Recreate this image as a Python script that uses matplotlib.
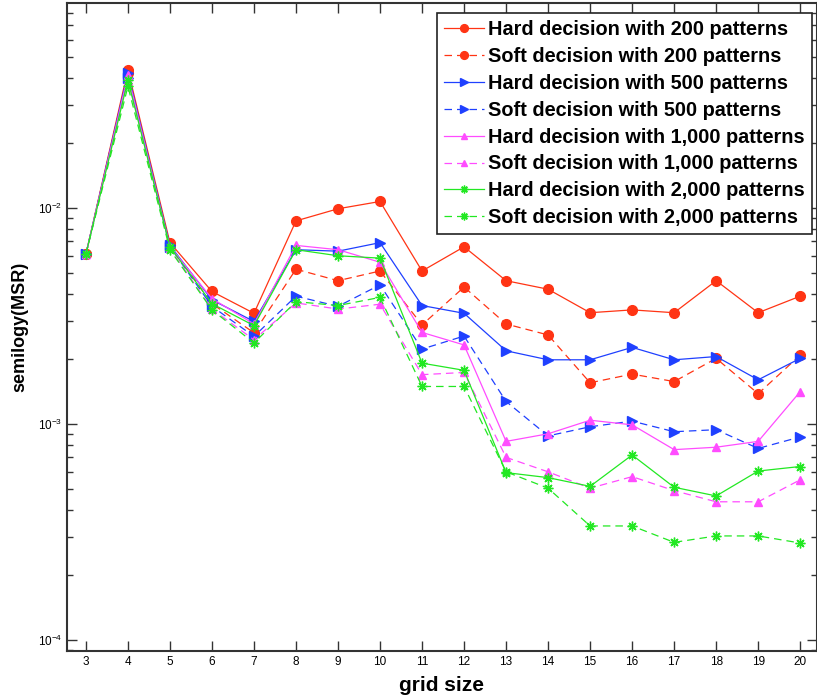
import matplotlib
matplotlib.use("Agg")
import matplotlib.pyplot as plt
from matplotlib.ticker import LogLocator, FixedLocator, NullLocator

grid_size = [3, 4, 5, 6, 7, 8, 9, 10, 11, 12, 13, 14, 15, 16, 17, 18, 19, 20]

hard_200 = [0.0061, 0.0435, 0.0069, 0.0041, 0.00325, 0.0087, 0.0099, 0.0107, 0.0051, 0.0066,
            0.0046, 0.0042, 0.00327, 0.00337, 0.00327, 0.0046, 0.00327, 0.0039]
soft_200 = [0.0061, 0.042, 0.0067, 0.0036, 0.00264, 0.0052, 0.0046, 0.0051, 0.00287, 0.0043,
            0.0029, 0.00258, 0.00155, 0.0017, 0.00157, 0.00201, 0.00138, 0.00208]
hard_500 = [0.0061, 0.042, 0.0067, 0.00375, 0.00298, 0.0064, 0.0063, 0.0069, 0.00353, 0.00325,
            0.00218, 0.00198, 0.00198, 0.00226, 0.00198, 0.00205, 0.0016, 0.00201]
soft_500 = [0.0061, 0.040, 0.0066, 0.0035, 0.00254, 0.0039, 0.0035, 0.0044, 0.00222, 0.00255,
            0.00127, 0.00088, 0.00097, 0.00103, 0.00092, 0.00094, 0.00077, 0.00087]
hard_1000 = [0.0061, 0.041, 0.0066, 0.0038, 0.0029, 0.0067, 0.0064, 0.0056, 0.00265, 0.00232,
             0.00083, 0.0009, 0.00104, 0.00099, 0.00076, 0.00078, 0.00083, 0.00141]
soft_1000 = [0.0061, 0.039, 0.0065, 0.0034, 0.00245, 0.00363, 0.0034, 0.00358, 0.00169, 0.00173,
             0.0007, 0.0006, 0.000504, 0.00057, 0.000491, 0.000436, 0.000436, 0.000551]
hard_2000 = [0.0061, 0.039, 0.0066, 0.0036, 0.00285, 0.0064, 0.0060, 0.00585, 0.00191, 0.00177,
             0.000595, 0.000564, 0.000514, 0.000718, 0.000509, 0.000464, 0.000605, 0.000635]
soft_2000 = [0.0061, 0.0365, 0.0064, 0.00337, 0.00237, 0.00368, 0.00353, 0.00385, 0.00149, 0.00149,
             0.0006, 0.000504, 0.000337, 0.000337, 0.000283, 0.000303, 0.000303, 0.000281]

labels = ["Hard decision with 200 patterns", "Soft decision with 200 patterns",
          "Hard decision with 500 patterns", "Soft decision with 500 patterns",
          "Hard decision with 1,000 patterns", "Soft decision with 1,000 patterns",
          "Hard decision with 2,000 patterns", "Soft decision with 2,000 patterns"]

RED = "#ff3414"
BLUE = "#1f40ff"
MAG = "#ff4cff"
GRN = "#22e822"
ASTER = (8, 2, 0)

series = [
    (hard_200, RED, "-", "o", 7),
    (soft_200, RED, "--", "o", 7),
    (hard_500, BLUE, "-", ">", 6.5),
    (soft_500, BLUE, "--", ">", 6.5),
    (hard_1000, MAG, "-", "^", 6),
    (soft_1000, MAG, "--", "^", 6),
    (hard_2000, GRN, "-", ASTER, 7),
    (soft_2000, GRN, "--", ASTER, 7),
]

plt.rcParams['font.family'] = ['Liberation Sans', 'DejaVu Sans']

fig = plt.figure(figsize=(8.17, 7.0), dpi=100)
ax = fig.add_axes([0.082, 0.07, 0.918, 0.926])

for (vals, col, ls, mk, ms), lab in zip(series, labels):
    kw = dict(color=col, linestyle=ls, marker=mk, markersize=ms, linewidth=0.9,
              markerfacecolor=col, markeredgecolor=col, label=lab)
    if mk == ASTER:
        kw["markeredgewidth"] = 1.0
    if ls == "--":
        kw["dashes"] = (6, 4)
    ax.semilogy(grid_size, vals, **kw)

ax.set_xlim(2.55, 20.4)
ax.set_ylim(8.89e-5, 0.0889)
ax.xaxis.set_major_locator(FixedLocator(grid_size))
ax.xaxis.set_minor_locator(NullLocator())
ax.yaxis.set_major_locator(LogLocator(base=10, numticks=10))
ax.yaxis.set_minor_locator(LogLocator(base=10, subs=range(2, 10), numticks=20))

ax.tick_params(which="both", direction="in", top=True, right=True, color="#333333")
ax.tick_params(which="major", length=7, width=1.0, labelsize=8.5)
ax.tick_params(which="minor", length=4, width=1.0)
for lbl in ax.get_xticklabels():
    lbl.set_fontfamily(['Liberation Sans Narrow', 'Liberation Sans', 'DejaVu Sans'])
for sp in ax.spines.values():
    sp.set_linewidth(1.5)
    sp.set_color("#333333")

ax.set_xlabel("grid size", fontsize=15, fontweight="bold", labelpad=6)
ax.set_ylabel("semilogy(MSR)", fontsize=13, fontweight="bold")
ax.yaxis.set_label_coords(-0.052, 0.5)

leg = ax.legend(loc="upper right", bbox_to_anchor=(0.993, 0.9846),
                prop={"weight": "bold", "size": 14.3}, frameon=True, fancybox=False,
                handlelength=2.0, handletextpad=0.22, labelspacing=0.4,
                borderpad=0.35, borderaxespad=0.0, framealpha=1, markerscale=0.8)
leg.get_frame().set_edgecolor("#222222")
leg.get_frame().set_linewidth(1.2)

fig.savefig("out.png", dpi=100)
